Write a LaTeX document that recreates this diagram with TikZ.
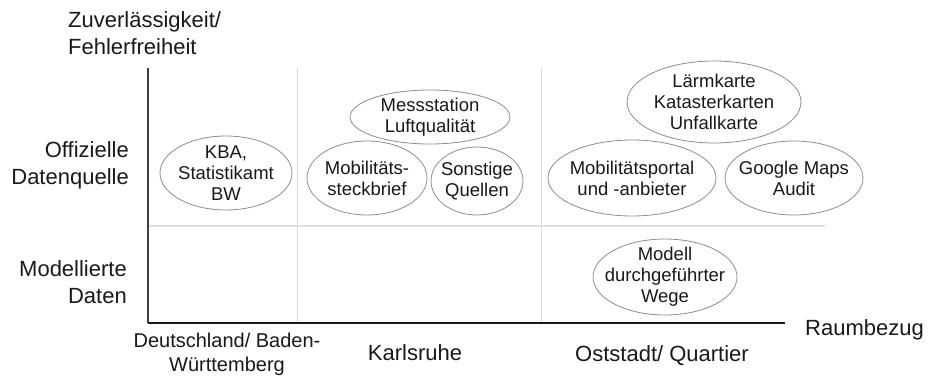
\documentclass[tikz,border=0pt]{standalone}
\usepackage{fontspec}
\setmainfont{Liberation Sans}
\tikzset{
  achse/.style={draw=black!75, line width=1.5pt},
  raster/.style={draw=black!15, line width=1pt},
  blase/.style={draw=black!45, line width=0.8pt},
  quelle/.style={align=center, inner sep=0pt, text=black!90, font=\fontsize{18.5}{21}\selectfont},
  beschriftung/.style={inner sep=0pt, text=black!90, font=\fontsize{22}{27}\selectfont},
}
\begin{document}
\begin{tikzpicture}[x=1pt,y=-1pt]
\useasboundingbox (0,0) rectangle (933,377);
% Achsen und Raster
\coordinate (ursprung) at (148,323);
\coordinate (yende) at (148,68);
\coordinate (xende) at (785,323);
\coordinate (t1o) at (297,68);
\coordinate (t1u) at (297,323);
\coordinate (t2o) at (541,68);
\coordinate (t2u) at (541,323);
\coordinate (hl) at (148,226);
\coordinate (hr) at (825,226);
\draw[raster] (t1o) -- (t1u);
\draw[raster] (t2o) -- (t2u);
\draw[raster,line width=1.8pt,draw=black!12] (hl) -- (hr);
\draw[achse] (yende) -- (ursprung);
\draw[achse,draw=black!90] (ursprung) -- (xende);
% Achsenbeschriftung
\node[beschriftung,anchor=west,align=left] (titel) at (68,33) {Zuverlässigkeit/\\Fehlerfreiheit};
\node[beschriftung,anchor=east,align=right] (offiziell) at (129,165) {Offizielle\\Datenquelle};
\node[beschriftung,anchor=east,align=right] (modelliert) at (127,282) {Modellierte\\Daten};
\node[beschriftung,anchor=base west] (raum) at (805,335) {Raumbezug};
\node[beschriftung,align=center,font=\fontsize{20}{24}\selectfont] (land) at (227,354) {Deutschland/ Baden-\\Württemberg};
\node[beschriftung,anchor=base] (stadt) at (415,360) {Karlsruhe};
\node[beschriftung,anchor=base] (quartier) at (662,361) {Oststadt/ Quartier};
% Datenquellen
\node[quelle] (kba) at (226,173) {KBA,\\Statistikamt\\BW};
\draw[blase] (kba) ellipse [x radius=66pt, y radius=37pt];
\node[quelle] (mess) at (430,117) {Messstation\\Luftqualität};
\draw[blase] (mess) ellipse [x radius=80pt, y radius=27pt];
\node[quelle] (steck) at (367,178) {Mobilitäts-\\steckbrief};
\draw[blase] (steck) ellipse [x radius=60pt, y radius=37pt];
\node[quelle] (sonst) at (477,181) {Sonstige\\Quellen};
\draw[blase] (sonst) ellipse [x radius=46pt, y radius=34pt];
\node[quelle] (laerm) at (714,102) {Lärmkarte\\Katasterkarten\\Unfallkarte};
\draw[blase] (laerm) ellipse [x radius=87pt, y radius=41pt];
\node[quelle] (portal) at (632,178) {Mobilitätsportal\\und -anbieter};
\draw[blase] (portal) ellipse [x radius=84pt, y radius=38pt];
\node[quelle] (google) at (794,178) {Google Maps\\Audit};
\draw[blase] (google) ellipse [x radius=69pt, y radius=37pt];
\node[quelle] (modell) at (665,277) {Modell\\durchgeführter\\Wege};
\draw[blase] (modell) ellipse [x radius=72pt, y radius=38pt];
\end{tikzpicture}
\end{document}
